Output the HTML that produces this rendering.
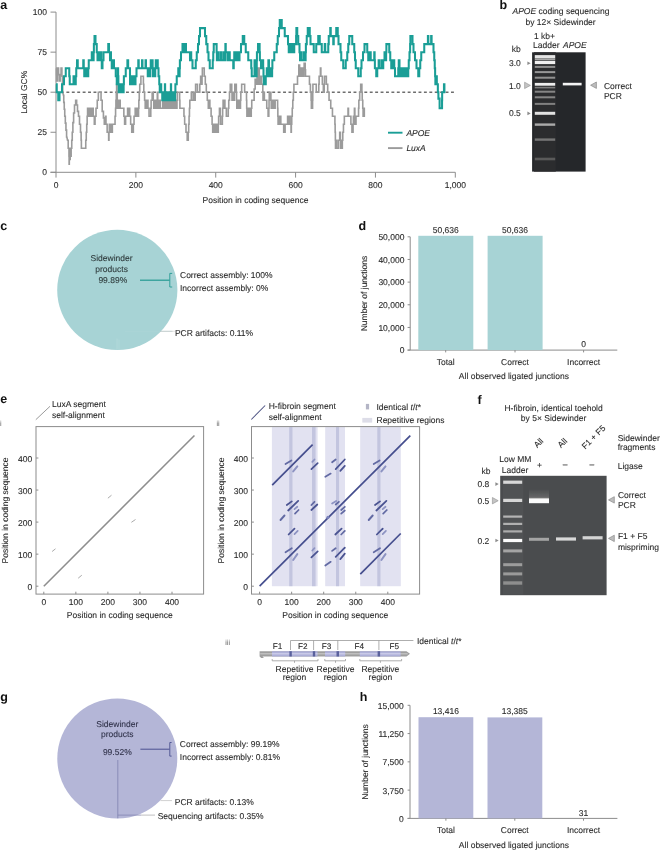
<!DOCTYPE html>
<html><head><meta charset="utf-8"><style>
html,body{margin:0;padding:0;background:#fff;}
svg{display:block;font-family:"Liberation Sans",sans-serif;filter:blur(0.45px);text-rendering:geometricPrecision;}
</style></head><body>
<svg width="660" height="850" viewBox="0 0 660 850">
<defs><linearGradient id="smear" x1="0" y1="0" x2="0" y2="1"><stop offset="0" stop-color="#4a4c4e"/><stop offset="0.7" stop-color="#646566"/><stop offset="1" stop-color="#909090"/></linearGradient><filter id="blur2" x="-10%" y="-100%" width="120%" height="300%"><feGaussianBlur stdDeviation="0.5 0.7"/></filter><filter id="blur" x="-10%" y="-100%" width="120%" height="300%"><feGaussianBlur stdDeviation="0.45 0.75"/></filter></defs>
<rect width="660" height="850" fill="#fff"/>
<text x="0.30" y="8.60" font-size="12.5" text-anchor="start" fill="#111" font-weight="bold" >a</text>
<line x1="56.00" y1="12.10" x2="56.00" y2="172.30" stroke="#8c8c8c" stroke-width="1" />
<line x1="50.50" y1="172.30" x2="455.30" y2="172.30" stroke="#8c8c8c" stroke-width="1" />
<line x1="50.50" y1="172.30" x2="56.00" y2="172.30" stroke="#8c8c8c" stroke-width="1" />
<text x="47.00" y="175.30" font-size="8.5" text-anchor="end" fill="#2a2a2a" stroke="#2a2a2a" stroke-width="0.1" >0</text>
<line x1="50.50" y1="132.25" x2="56.00" y2="132.25" stroke="#8c8c8c" stroke-width="1" />
<text x="47.00" y="135.25" font-size="8.5" text-anchor="end" fill="#2a2a2a" stroke="#2a2a2a" stroke-width="0.1" >25</text>
<line x1="50.50" y1="92.20" x2="56.00" y2="92.20" stroke="#8c8c8c" stroke-width="1" />
<text x="47.00" y="95.20" font-size="8.5" text-anchor="end" fill="#2a2a2a" stroke="#2a2a2a" stroke-width="0.1" >50</text>
<line x1="50.50" y1="52.15" x2="56.00" y2="52.15" stroke="#8c8c8c" stroke-width="1" />
<text x="47.00" y="55.15" font-size="8.5" text-anchor="end" fill="#2a2a2a" stroke="#2a2a2a" stroke-width="0.1" >75</text>
<line x1="50.50" y1="12.10" x2="56.00" y2="12.10" stroke="#8c8c8c" stroke-width="1" />
<text x="47.00" y="15.10" font-size="8.5" text-anchor="end" fill="#2a2a2a" stroke="#2a2a2a" stroke-width="0.1" >100</text>
<line x1="56.00" y1="172.30" x2="56.00" y2="177.60" stroke="#8c8c8c" stroke-width="1" />
<text x="56.00" y="188.40" font-size="8.5" text-anchor="middle" fill="#2a2a2a" stroke="#2a2a2a" stroke-width="0.1" >0</text>
<line x1="135.86" y1="172.30" x2="135.86" y2="177.60" stroke="#8c8c8c" stroke-width="1" />
<text x="135.86" y="188.40" font-size="8.5" text-anchor="middle" fill="#2a2a2a" stroke="#2a2a2a" stroke-width="0.1" >200</text>
<line x1="215.72" y1="172.30" x2="215.72" y2="177.60" stroke="#8c8c8c" stroke-width="1" />
<text x="215.72" y="188.40" font-size="8.5" text-anchor="middle" fill="#2a2a2a" stroke="#2a2a2a" stroke-width="0.1" >400</text>
<line x1="295.58" y1="172.30" x2="295.58" y2="177.60" stroke="#8c8c8c" stroke-width="1" />
<text x="295.58" y="188.40" font-size="8.5" text-anchor="middle" fill="#2a2a2a" stroke="#2a2a2a" stroke-width="0.1" >600</text>
<line x1="375.44" y1="172.30" x2="375.44" y2="177.60" stroke="#8c8c8c" stroke-width="1" />
<text x="375.44" y="188.40" font-size="8.5" text-anchor="middle" fill="#2a2a2a" stroke="#2a2a2a" stroke-width="0.1" >800</text>
<line x1="455.30" y1="172.30" x2="455.30" y2="177.60" stroke="#8c8c8c" stroke-width="1" />
<text x="455.30" y="188.40" font-size="8.5" text-anchor="middle" fill="#2a2a2a" stroke="#2a2a2a" stroke-width="0.1" >1,000</text>
<text x="255.50" y="202.60" font-size="8.5" text-anchor="middle" fill="#2a2a2a" stroke="#2a2a2a" stroke-width="0.1" >Position in coding sequence</text>
<text x="0.00" y="0.00" font-size="8.5" text-anchor="middle" fill="#2a2a2a" stroke="#2a2a2a" stroke-width="0.1" transform="translate(27.3,92.2) rotate(-90)">Local GC%</text>
<line x1="56.00" y1="92.20" x2="455.30" y2="92.20" stroke="#6e6e6e" stroke-width="1.45" stroke-dasharray="2.9,2.517" stroke-dashoffset="0.43"/>
<path d="M56.00,68.17 L56.40,68.17 L56.45,68.17 L56.45,74.58 L56.55,74.58 L56.55,80.99 L56.60,80.99 L57.40,80.99 L57.45,80.99 L57.45,74.58 L57.55,74.58 L57.55,68.17 L57.60,68.17 L58.20,68.17 L58.58,68.17 L58.58,74.58 L59.33,74.58 L59.33,80.99 L59.70,80.99 L60.15,80.99 L60.15,74.58 L61.05,74.58 L61.05,68.17 L61.50,68.17 L61.90,68.17 L61.90,76.18 L62.30,76.18 L62.42,76.18 L62.42,84.19 L62.67,84.19 L62.67,92.20 L62.80,92.20 L63.50,95.40 L63.75,95.40 L63.75,102.35 L64.25,102.35 L64.25,109.29 L64.75,109.29 L64.75,116.23 L65.00,116.23 L65.32,116.23 L65.32,123.17 L65.95,123.17 L65.95,130.11 L66.58,130.11 L66.58,137.06 L66.90,137.06 L67.50,140.26 L68.20,140.26 L68.20,148.27 L68.90,148.27 L68.98,148.27 L68.98,156.28 L69.12,156.28 L69.12,164.29 L69.20,164.29 L69.30,164.29 L69.30,156.28 L69.50,156.28 L69.50,148.27 L69.60,148.27 L69.80,148.27 L69.80,159.48 L70.00,159.48 L70.20,159.48 L70.20,148.27 L70.40,148.27 L70.60,148.27 L70.60,156.28 L70.80,156.28 L71.15,156.28 L71.15,148.27 L71.50,148.27 L71.75,148.27 L71.75,140.26 L72.25,140.26 L72.25,132.25 L72.50,132.25 L72.88,132.25 L72.88,122.64 L73.62,122.64 L73.62,113.03 L74.00,113.03 L74.50,113.03 L74.50,105.02 L75.00,105.02 L75.65,105.02 L75.65,100.21 L76.30,100.21 L76.65,100.21 L76.65,105.02 L77.00,105.02 L77.50,105.02 L77.50,111.42 L78.00,111.42 L78.50,111.42 L78.50,116.23 L79.00,116.23 L79.50,116.23 L79.50,124.24 L80.50,124.24 L80.50,132.25 L81.00,132.25 L81.12,132.25 L81.12,140.26 L81.38,140.26 L81.38,148.27 L81.50,148.27 L85.50,148.27 L85.75,148.27 L85.75,140.26 L86.25,140.26 L86.25,132.25 L86.50,132.25 L86.72,132.25 L86.72,124.24 L87.15,124.24 L87.15,116.23 L87.58,116.23 L87.58,108.22 L87.80,108.22 L87.80,116.23 L88.61,116.23 L88.61,108.22 L89.06,108.22 L89.06,116.23 L90.67,116.23 L90.67,108.22 L91.12,108.22 L91.12,116.23 L92.74,116.23 L92.74,108.22 L93.19,108.22 L93.19,116.23 L94.00,116.23 L94.30,116.23 L94.30,124.24 L94.60,124.24 L95.05,124.24 L95.05,116.23 L95.50,116.23 L96.00,116.23 L96.00,108.22 L96.50,108.22 L97.25,108.22 L97.25,100.21 L98.00,100.21 L98.35,100.21 L98.35,92.20 L98.70,92.20 L100.70,92.20 L101.05,92.20 L101.05,100.21 L101.40,100.21 L102.20,100.21 L102.20,111.42 L103.00,111.42 L103.42,111.42 L103.42,117.83 L104.28,117.83 L104.28,124.24 L104.70,124.24 L105.53,124.24 L105.53,116.23 L105.98,116.23 L105.98,124.24 L106.80,124.24 L107.15,124.24 L107.15,132.25 L107.50,132.25 L108.50,132.25 L108.65,132.25 L108.65,140.26 L108.80,140.26 L108.97,140.26 L108.97,132.25 L109.33,132.25 L109.33,124.24 L109.50,124.24 L109.50,132.25 L110.53,132.25 L110.53,124.24 L110.98,124.24 L110.98,132.25 L112.00,132.25 L112.35,132.25 L112.35,124.24 L112.70,124.24 L114.70,124.24 L115.05,124.24 L115.05,116.23 L115.40,116.23 L115.58,116.23 L115.58,108.22 L115.92,108.22 L115.92,100.21 L116.28,100.21 L116.28,92.20 L116.62,92.20 L116.62,84.19 L116.80,84.19 L116.95,84.19 L116.95,92.20 L117.25,92.20 L117.25,100.21 L117.40,100.21 L117.40,108.22 L118.03,108.22 L118.03,100.21 L118.48,100.21 L118.48,108.22 L119.72,108.22 L119.72,100.21 L120.17,100.21 L120.17,108.22 L120.80,108.22 L121.50,108.22 L123.50,108.22 L123.85,108.22 L123.85,116.23 L124.20,116.23 L124.60,116.23 L124.60,124.24 L125.00,124.24 L125.60,124.24 L125.60,116.23 L126.20,116.23 L127.00,116.23 L127.60,116.23 L127.60,108.22 L128.05,108.22 L128.05,116.23 L129.25,116.23 L129.25,108.22 L129.70,108.22 L129.70,116.23 L130.30,116.23 L130.65,116.23 L130.65,124.24 L131.00,124.24 L131.75,124.24 L131.75,132.25 L132.50,132.25 L133.00,132.25 L133.35,132.25 L133.35,124.24 L133.70,124.24 L134.05,124.24 L134.05,116.23 L134.40,116.23 L134.40,116.23 L135.18,116.23 L135.18,108.22 L135.62,108.22 L135.62,116.23 L137.18,116.23 L137.18,108.22 L137.62,108.22 L137.62,116.23 L138.40,116.23 L138.55,116.23 L138.55,108.22 L138.85,108.22 L138.85,100.21 L139.00,100.21 L139.25,100.21 L139.25,92.20 L139.75,92.20 L139.75,84.19 L140.00,84.19 L140.90,84.19 L140.90,76.18 L141.80,76.18 L143.20,76.18 L143.40,76.18 L143.40,84.19 L143.80,84.19 L143.80,92.20 L144.00,92.20 L144.60,92.20 L144.60,100.21 L145.20,100.21 L145.20,108.22 L145.82,108.22 L145.82,100.21 L146.27,100.21 L146.27,108.22 L147.52,108.22 L147.52,100.21 L147.97,100.21 L147.97,108.22 L148.60,108.22 L149.05,108.22 L149.05,116.23 L149.50,116.23 L150.60,116.23 L150.78,116.23 L150.78,108.22 L151.12,108.22 L151.12,100.21 L151.30,100.21 L152.15,100.21 L152.15,92.20 L153.00,92.20 L153.25,92.20 L153.25,100.21 L153.75,100.21 L153.75,108.22 L154.00,108.22 L155.12,108.22 L155.12,100.21 L155.57,100.21 L155.57,108.22 L156.70,108.22 L156.90,108.22 L156.90,100.21 L157.30,100.21 L157.30,92.20 L157.50,92.20 L157.75,92.20 L157.75,100.21 L158.00,100.21 L158.35,100.21 L158.35,108.22 L158.70,108.22 L159.83,108.22 L159.83,100.21 L160.28,100.21 L160.28,108.22 L161.40,108.22 L162.00,108.22 L162.70,108.22 L162.70,100.21 L163.15,100.21 L163.15,108.22 L164.55,108.22 L164.55,100.21 L165.00,100.21 L165.00,108.22 L166.40,108.22 L166.40,100.21 L166.85,100.21 L166.85,108.22 L168.25,108.22 L168.25,100.21 L168.70,100.21 L168.70,108.22 L170.10,108.22 L170.10,100.21 L170.55,100.21 L170.55,108.22 L171.95,108.22 L171.95,100.21 L172.40,100.21 L172.40,108.22 L173.80,108.22 L173.80,100.21 L174.25,100.21 L174.25,108.22 L175.65,108.22 L175.65,100.21 L176.10,100.21 L176.10,108.22 L176.80,108.22 L176.98,108.22 L176.98,100.21 L177.32,100.21 L177.32,92.20 L177.50,92.20 L179.50,92.20 L179.62,92.20 L179.62,100.21 L179.88,100.21 L179.88,108.22 L180.00,108.22 L183.60,108.22 L183.95,108.22 L183.95,116.23 L184.65,116.23 L184.65,124.24 L185.00,124.24 L186.00,124.24 L186.00,132.25 L187.00,132.25 L187.20,132.25 L187.20,140.26 L187.40,140.26 L188.00,140.26 L188.25,140.26 L188.25,132.25 L188.50,132.25 L188.69,132.25 L188.69,124.24 L189.06,124.24 L189.06,116.23 L189.44,116.23 L189.44,108.22 L189.81,108.22 L189.81,100.21 L190.00,100.21 L190.40,100.21 L191.33,100.21 L191.33,92.20 L191.78,92.20 L191.78,100.21 L193.62,100.21 L193.62,92.20 L194.07,92.20 L194.07,100.21 L195.00,100.21 L195.20,100.21 L195.20,92.20 L195.60,92.20 L195.60,84.19 L195.80,84.19 L197.10,84.19 L197.45,84.19 L197.45,92.20 L197.80,92.20 L199.80,92.20 L199.80,84.19 L200.63,84.19 L200.63,76.18 L201.08,76.18 L201.08,84.19 L201.90,84.19 L202.05,84.19 L202.05,76.18 L202.35,76.18 L202.35,68.17 L202.50,68.17 L203.90,68.17 L204.25,68.17 L204.25,76.18 L204.60,76.18 L205.30,76.18 L205.30,84.19 L206.00,84.19 L206.30,84.19 L206.30,92.20 L206.60,92.20 L207.30,92.20 L207.30,100.21 L208.00,100.21 L208.30,100.21 L208.30,108.22 L208.60,108.22 L209.42,108.22 L209.42,100.21 L209.87,100.21 L209.87,108.22 L210.70,108.22 L211.10,108.22 L211.10,116.23 L211.50,116.23 L212.10,116.23 L212.10,124.24 L212.70,124.24 L212.70,132.25 L213.38,132.25 L213.38,124.24 L213.82,124.24 L213.82,132.25 L215.18,132.25 L215.18,124.24 L215.62,124.24 L215.62,132.25 L216.97,132.25 L216.97,124.24 L217.42,124.24 L217.42,132.25 L218.10,132.25 L218.28,132.25 L218.28,124.24 L218.62,124.24 L218.62,116.23 L218.80,116.23 L219.45,116.23 L219.45,108.22 L220.10,108.22 L220.28,108.22 L220.28,116.23 L220.62,116.23 L220.62,124.24 L220.80,124.24 L222.20,124.24 L222.35,124.24 L222.35,116.23 L222.65,116.23 L222.65,108.22 L222.80,108.22 L223.10,108.22 L223.10,100.21 L223.40,100.21 L223.40,108.22 L224.47,108.22 L224.47,100.21 L224.92,100.21 L224.92,108.22 L226.00,108.22 L226.35,108.22 L226.35,116.23 L226.70,116.23 L228.00,116.23 L228.25,116.23 L228.25,108.22 L228.75,108.22 L228.75,100.21 L229.00,100.21 L229.50,100.21 L229.50,92.20 L230.00,92.20 L230.25,92.20 L230.25,84.19 L230.50,84.19 L231.50,84.19 L231.75,84.19 L231.75,92.20 L232.00,92.20 L232.00,100.21 L232.88,100.21 L232.88,92.20 L233.32,92.20 L233.32,100.21 L234.20,100.21 L234.40,100.21 L234.40,92.20 L234.80,92.20 L234.80,84.19 L235.00,84.19 L236.20,84.19 L236.32,84.19 L236.32,92.20 L236.55,92.20 L236.55,100.21 L236.78,100.21 L236.78,108.22 L236.90,108.22 L237.53,108.22 L237.53,100.21 L237.97,100.21 L237.97,108.22 L239.23,108.22 L239.23,100.21 L239.68,100.21 L239.68,108.22 L240.30,108.22 L240.48,108.22 L240.48,100.21 L240.82,100.21 L240.82,92.20 L241.00,92.20 L241.65,92.20 L241.65,84.19 L242.30,84.19 L244.30,84.19 L244.65,84.19 L244.65,92.20 L245.00,92.20 L246.40,92.20 L246.50,92.20 L246.50,100.21 L246.70,100.21 L246.70,108.22 L246.90,108.22 L246.90,116.23 L247.00,116.23 L247.78,116.23 L247.78,108.22 L248.22,108.22 L248.22,116.23 L249.78,116.23 L249.78,108.22 L250.22,108.22 L250.22,116.23 L251.00,116.23 L251.25,116.23 L251.25,108.22 L251.75,108.22 L251.75,100.21 L252.00,100.21 L253.80,100.21 L254.15,100.21 L254.15,89.00 L254.50,89.00 L255.15,89.00 L255.15,79.38 L255.80,79.38 L256.15,79.38 L256.15,84.19 L256.50,84.19 L257.12,84.19 L257.12,68.17 L257.57,68.17 L257.57,84.19 L258.82,84.19 L258.82,68.17 L259.27,68.17 L259.27,84.19 L259.90,84.19 L260.25,84.19 L260.25,76.18 L260.60,76.18 L261.60,76.18 L261.60,84.19 L262.60,84.19 L262.80,84.19 L262.80,92.20 L263.00,92.20 L263.00,100.21 L263.92,100.21 L263.92,92.20 L264.37,92.20 L264.37,100.21 L265.30,100.21 L266.00,100.21 L266.75,100.21 L266.75,108.22 L267.50,108.22 L268.10,108.22 L268.10,116.23 L268.70,116.23 L268.82,116.23 L268.82,108.22 L269.05,108.22 L269.05,100.21 L269.28,100.21 L269.28,92.20 L269.40,92.20 L270.70,92.20 L270.88,92.20 L270.88,100.21 L271.22,100.21 L271.22,108.22 L271.40,108.22 L272.02,108.22 L272.02,100.21 L272.47,100.21 L272.47,108.22 L273.73,108.22 L273.73,100.21 L274.18,100.21 L274.18,108.22 L274.80,108.22 L275.15,108.22 L275.15,100.21 L275.50,100.21 L277.50,100.21 L277.62,100.21 L277.62,108.22 L277.85,108.22 L277.85,116.23 L278.08,116.23 L278.08,124.24 L278.20,124.24 L278.77,124.24 L278.77,116.23 L279.22,116.23 L279.22,124.24 L280.37,124.24 L280.37,116.23 L280.82,116.23 L280.82,124.24 L281.40,124.24 L282.00,124.24 L283.40,124.24 L283.70,124.24 L283.70,132.25 L284.00,132.25 L284.80,132.25 L285.10,132.25 L285.10,124.24 L285.40,124.24 L286.80,124.24 L287.60,124.24 L287.60,116.23 L288.05,116.23 L288.05,124.24 L289.65,124.24 L289.65,116.23 L290.10,116.23 L290.10,124.24 L290.90,124.24 L291.05,124.24 L291.05,132.25 L291.20,132.25 L291.35,132.25 L291.35,124.24 L291.50,124.24 L291.75,124.24 L291.75,116.23 L292.25,116.23 L292.25,108.22 L292.50,108.22 L292.78,108.22 L292.78,100.21 L293.35,100.21 L293.35,92.20 L293.92,92.20 L293.92,84.19 L294.20,84.19 L297.00,84.19 L297.50,84.19 L297.50,76.18 L298.00,76.18 L298.80,76.18 L298.80,64.97 L299.60,64.97 L299.60,76.18 L300.40,76.18 L300.40,68.17 L300.85,68.17 L300.85,76.18 L302.45,76.18 L302.45,68.17 L302.90,68.17 L302.90,76.18 L303.70,76.18 L303.85,76.18 L303.85,69.77 L304.15,69.77 L304.15,63.36 L304.30,63.36 L305.00,63.36 L305.18,63.36 L305.18,69.77 L305.52,69.77 L305.52,76.18 L305.70,76.18 L309.10,76.18 L309.45,76.18 L309.45,84.19 L309.80,84.19 L310.40,84.19 L310.40,92.20 L311.00,92.20 L311.12,92.20 L311.12,100.21 L311.38,100.21 L311.38,108.22 L311.50,108.22 L312.50,108.22 L312.58,108.22 L312.58,100.21 L312.75,100.21 L312.75,92.20 L312.92,92.20 L312.92,84.19 L313.00,84.19 L315.90,84.19 L316.25,84.19 L316.25,92.20 L316.60,92.20 L318.60,92.20 L318.78,92.20 L318.78,84.19 L319.12,84.19 L319.12,76.18 L319.30,76.18 L320.42,76.18 L320.42,68.17 L320.87,68.17 L320.87,76.18 L322.00,76.18 L322.35,76.18 L322.35,84.19 L322.70,84.19 L323.35,84.19 L323.35,92.20 L324.00,92.20 L324.18,92.20 L324.18,84.19 L324.52,84.19 L324.52,76.18 L324.70,76.18 L326.00,76.18 L326.35,76.18 L326.35,84.19 L326.70,84.19 L327.70,84.19 L327.70,92.20 L328.70,92.20 L329.05,92.20 L329.05,100.21 L329.40,100.21 L330.75,100.21 L330.75,108.22 L332.10,108.22 L332.45,108.22 L332.45,116.23 L332.80,116.23 L334.80,116.23 L334.92,116.23 L334.92,124.24 L335.15,124.24 L335.15,132.25 L335.38,132.25 L335.38,140.26 L335.50,140.26 L335.50,148.27 L336.52,148.27 L336.52,140.26 L336.97,140.26 L336.97,148.27 L338.00,148.27 L338.70,148.27 L338.70,140.26 L339.40,140.26 L339.70,140.26 L339.70,132.25 L340.00,132.25 L340.40,132.25 L340.40,140.26 L340.80,140.26 L340.80,148.27 L341.23,148.27 L341.23,140.26 L341.68,140.26 L341.68,148.27 L342.10,148.27 L342.33,148.27 L342.33,140.26 L342.77,140.26 L342.77,132.25 L343.00,132.25 L343.45,132.25 L343.45,124.24 L344.35,124.24 L344.35,116.23 L344.80,116.23 L346.90,116.23 L346.90,116.23 L348.02,116.23 L348.02,108.22 L348.47,108.22 L348.47,116.23 L349.60,116.23 L350.20,116.23 L350.90,116.23 L350.90,124.24 L351.60,124.24 L351.95,124.24 L351.95,132.25 L352.30,132.25 L352.90,132.25 L353.07,132.25 L353.07,124.24 L353.43,124.24 L353.43,116.23 L353.60,116.23 L353.60,124.24 L354.42,124.24 L354.42,108.22 L354.87,108.22 L354.87,124.24 L355.70,124.24 L356.00,124.24 L356.00,116.23 L356.30,116.23 L358.40,116.23 L358.55,116.23 L358.55,108.22 L358.85,108.22 L358.85,100.21 L359.00,100.21 L359.70,100.21 L359.70,92.20 L360.40,92.20 L360.70,92.20 L360.70,84.19 L361.00,84.19 L361.70,84.19 L361.88,84.19 L361.88,92.20 L362.22,92.20 L362.22,100.21 L362.40,100.21 L362.75,100.21 L362.75,108.22 L363.10,108.22 L363.10,116.23 L363.88,116.23 L363.88,108.22 L364.32,108.22 L364.32,116.23 L365.10,116.23" fill="none" stroke="#9b9b9b" stroke-width="1.6" stroke-linejoin="miter" stroke-miterlimit="2"/>
<path d="M56.00,84.19 L56.75,84.19 L56.75,92.20 L57.50,92.20 L58.25,92.20 L58.25,100.21 L59.00,100.21 L59.50,100.21 L59.50,92.20 L60.00,92.20 L61.50,92.20 L62.00,92.20 L62.00,84.19 L62.50,84.19 L63.50,84.19 L64.00,84.19 L64.00,76.18 L64.50,76.18 L65.50,76.18 L65.75,76.18 L65.75,68.17 L66.00,68.17 L69.00,68.17 L69.25,68.17 L69.25,76.18 L69.75,76.18 L69.75,84.19 L70.00,84.19 L72.00,84.19 L72.00,84.19 L73.53,84.19 L73.53,76.18 L73.98,76.18 L73.98,84.19 L75.50,84.19 L75.75,84.19 L75.75,76.18 L76.25,76.18 L76.25,68.17 L76.50,68.17 L77.00,68.17 L77.00,60.16 L77.50,60.16 L77.75,60.16 L77.75,68.17 L78.00,68.17 L83.00,68.17 L83.25,68.17 L83.25,60.16 L83.50,60.16 L83.75,60.16 L83.75,68.17 L84.00,68.17 L84.25,68.17 L84.25,76.18 L84.50,76.18 L86.03,76.18 L86.03,68.17 L86.48,68.17 L86.48,76.18 L88.00,76.18 L88.25,76.18 L88.25,68.17 L88.75,68.17 L88.75,60.16 L89.00,60.16 L90.50,60.16 L90.50,60.16 L91.78,60.16 L91.78,52.15 L92.23,52.15 L92.23,60.16 L93.50,60.16 L93.62,60.16 L93.62,52.15 L93.88,52.15 L93.88,44.14 L94.00,44.14 L94.50,44.14 L94.50,36.13 L95.00,36.13 L95.50,36.13 L95.50,44.14 L96.00,44.14 L96.75,44.14 L96.75,52.15 L97.50,52.15 L97.50,60.16 L98.53,60.16 L98.53,52.15 L98.98,52.15 L98.98,60.16 L100.00,60.16 L100.50,60.16 L100.50,52.15 L101.00,52.15 L101.25,52.15 L101.25,60.16 L101.75,60.16 L101.75,68.17 L102.00,68.17 L102.50,68.17 L102.50,60.16 L103.00,60.16 L103.50,60.16 L103.50,52.15 L104.00,52.15 L108.00,52.15 L108.25,52.15 L108.25,44.14 L108.50,44.14 L109.00,44.14 L109.00,52.15 L109.50,52.15 L110.00,52.15 L110.00,60.16 L110.53,60.16 L110.53,52.15 L110.98,52.15 L110.98,60.16 L111.50,60.16 L111.75,60.16 L111.75,68.17 L112.00,68.17 L113.53,68.17 L113.53,60.16 L113.98,60.16 L113.98,68.17 L115.50,68.17 L115.75,68.17 L115.75,76.18 L116.00,76.18 L116.75,76.18 L116.75,84.19 L117.50,84.19 L117.62,84.19 L117.62,76.18 L117.88,76.18 L117.88,68.17 L118.00,68.17 L118.12,68.17 L118.12,76.18 L118.38,76.18 L118.38,84.19 L118.50,84.19 L118.75,84.19 L118.75,92.20 L119.00,92.20 L119.90,92.20 L119.90,84.19 L120.35,84.19 L120.35,92.20 L122.15,92.20 L122.15,84.19 L122.60,84.19 L122.60,92.20 L123.50,92.20 L123.62,92.20 L123.62,84.19 L123.88,84.19 L123.88,76.18 L124.00,76.18 L125.50,76.18 L125.75,76.18 L125.75,68.17 L126.00,68.17 L127.00,68.17 L127.40,68.17 L127.40,60.16 L127.80,60.16 L128.15,60.16 L128.15,68.17 L128.50,68.17 L130.00,68.17 L130.00,84.19 L131.03,84.19 L131.03,76.18 L131.47,76.18 L131.47,84.19 L133.53,84.19 L133.53,76.18 L133.97,76.18 L133.97,84.19 L135.00,84.19 L135.50,84.19 L135.50,76.18 L136.00,76.18 L136.50,76.18 L136.50,68.17 L137.00,68.17 L138.00,68.17 L138.28,68.17 L138.28,60.16 L138.72,60.16 L138.72,68.17 L139.00,68.17 L139.50,68.17 L141.00,68.17 L141.50,68.17 L142.03,68.17 L142.03,60.16 L142.47,60.16 L142.47,68.17 L143.00,68.17 L144.00,68.17 L145.53,68.17 L145.53,60.16 L145.97,60.16 L145.97,68.17 L147.50,68.17 L147.75,68.17 L147.75,76.18 L148.00,76.18 L148.78,76.18 L148.78,68.17 L149.22,68.17 L149.22,76.18 L150.00,76.18 L150.25,76.18 L150.25,68.17 L150.75,68.17 L150.75,60.16 L151.00,60.16 L152.50,60.16 L152.62,60.16 L152.62,68.17 L152.88,68.17 L152.88,76.18 L153.00,76.18 L153.78,76.18 L153.78,68.17 L154.22,68.17 L154.22,76.18 L155.00,76.18 L155.25,76.18 L155.25,68.17 L155.75,68.17 L155.75,60.16 L156.00,60.16 L157.50,60.16 L157.75,60.16 L157.75,68.17 L158.00,68.17 L158.50,68.17 L158.50,76.18 L159.00,76.18 L159.25,76.18 L159.25,84.19 L159.50,84.19 L159.75,84.19 L159.75,92.20 L160.00,92.20 L160.78,92.20 L160.78,84.19 L161.22,84.19 L161.22,92.20 L162.00,92.20 L162.25,92.20 L162.25,100.21 L162.50,100.21 L163.28,100.21 L163.28,92.20 L163.72,92.20 L163.72,100.21 L164.50,100.21 L164.62,100.21 L164.62,92.20 L164.88,92.20 L164.88,84.19 L165.00,84.19 L165.12,84.19 L165.12,92.20 L165.38,92.20 L165.38,100.21 L165.50,100.21 L166.53,100.21 L166.53,92.20 L166.97,92.20 L166.97,100.21 L169.03,100.21 L169.03,92.20 L169.47,92.20 L169.47,100.21 L170.50,100.21 L170.62,100.21 L170.62,92.20 L170.88,92.20 L170.88,84.19 L171.00,84.19 L171.12,84.19 L171.12,92.20 L171.38,92.20 L171.38,100.21 L171.50,100.21 L173.03,100.21 L173.03,92.20 L173.47,92.20 L173.47,100.21 L175.00,100.21 L175.12,100.21 L175.12,92.20 L175.38,92.20 L175.38,84.19 L175.50,84.19 L176.00,84.19 L176.75,84.19 L176.75,76.18 L177.50,76.18 L177.50,76.18 L178.28,76.18 L178.28,68.17 L178.72,68.17 L178.72,76.18 L179.50,76.18 L179.62,76.18 L179.62,68.17 L179.88,68.17 L179.88,60.16 L180.00,60.16 L181.00,60.16 L181.00,52.15 L182.00,52.15 L182.50,52.15 L182.50,44.14 L183.00,44.14 L183.50,44.14 L183.50,52.15 L184.00,52.15 L185.53,52.15 L185.53,44.14 L185.97,44.14 L185.97,52.15 L187.50,52.15 L188.00,52.15 L190.00,52.15 L190.00,60.16 L190.78,60.16 L190.78,52.15 L191.22,52.15 L191.22,60.16 L192.00,60.16 L192.50,60.16 L192.50,68.17 L193.00,68.17 L195.50,68.17 L195.75,68.17 L195.75,60.16 L196.00,60.16 L196.75,60.16 L196.75,52.15 L197.50,52.15 L198.00,52.15 L198.00,44.14 L198.50,44.14 L199.00,44.14 L199.00,36.13 L199.50,36.13 L200.00,36.13 L200.00,28.12 L200.50,28.12 L204.50,28.12 L205.00,28.12 L205.00,36.13 L205.50,36.13 L206.25,36.13 L206.25,44.14 L207.00,44.14 L207.50,44.14 L207.50,52.15 L208.00,52.15 L208.50,52.15 L208.50,60.16 L209.00,60.16 L209.75,60.16 L209.75,68.17 L210.50,68.17 L212.50,68.17 L212.75,68.17 L212.75,60.16 L213.00,60.16 L213.25,60.16 L213.25,52.15 L213.50,52.15 L213.75,52.15 L213.75,44.14 L214.00,44.14 L216.50,44.14 L216.62,44.14 L216.62,52.15 L216.88,52.15 L216.88,60.16 L217.00,60.16 L218.11,60.16 L218.11,52.15 L218.56,52.15 L218.56,60.16 L220.78,60.16 L220.78,52.15 L221.22,52.15 L221.22,60.16 L223.44,60.16 L223.44,52.15 L223.89,52.15 L223.89,60.16 L225.00,60.16 L225.12,60.16 L225.12,52.15 L225.38,52.15 L225.38,44.14 L225.50,44.14 L225.75,44.14 L225.75,52.15 L226.00,52.15 L227.00,52.15 L227.50,52.15 L227.50,60.16 L228.00,60.16 L229.00,60.16 L229.25,60.16 L229.25,52.15 L229.50,52.15 L229.75,52.15 L229.75,60.16 L230.00,60.16 L233.00,60.16 L233.25,60.16 L233.25,68.17 L233.50,68.17 L233.75,68.17 L233.75,60.16 L234.25,60.16 L234.25,52.15 L234.50,52.15 L236.00,52.15 L236.00,60.16 L237.28,60.16 L237.28,52.15 L237.72,52.15 L237.72,60.16 L239.00,60.16 L239.50,60.16 L239.50,52.15 L240.00,52.15 L241.00,52.15 L241.00,44.14 L242.00,44.14 L242.75,44.14 L242.75,36.13 L243.50,36.13 L244.25,36.13 L244.25,44.14 L245.00,44.14 L245.75,44.14 L245.75,52.15 L246.50,52.15 L248.00,52.15 L248.25,52.15 L248.25,60.16 L248.50,60.16 L251.00,60.16 L251.25,60.16 L251.25,68.17 L251.75,68.17 L251.75,76.18 L252.00,76.18 L253.00,76.18 L254.53,76.18 L254.53,60.16 L254.97,60.16 L254.97,76.18 L256.50,76.18 L256.58,76.18 L256.58,68.17 L256.75,68.17 L256.75,60.16 L256.92,60.16 L256.92,52.15 L257.00,52.15 L258.00,52.15 L258.00,44.14 L259.00,44.14 L259.50,44.14 L259.62,44.14 L259.62,52.15 L259.88,52.15 L259.88,60.16 L260.00,60.16 L261.00,60.16 L261.00,68.17 L262.00,68.17 L262.50,68.17 L262.50,60.16 L263.00,60.16 L263.17,60.16 L263.17,68.17 L263.50,68.17 L263.50,76.18 L263.83,76.18 L263.83,84.19 L264.00,84.19 L265.50,84.19 L265.75,84.19 L265.75,76.18 L266.00,76.18 L266.77,76.18 L266.77,68.17 L267.22,68.17 L267.22,76.18 L268.00,76.18 L268.12,76.18 L268.12,68.17 L268.38,68.17 L268.38,60.16 L268.50,60.16 L269.00,60.16 L269.00,68.17 L269.50,68.17 L269.75,68.17 L269.75,76.18 L270.00,76.18 L270.77,76.18 L270.77,68.17 L271.22,68.17 L271.22,76.18 L272.00,76.18 L272.12,76.18 L272.12,68.17 L272.38,68.17 L272.38,60.16 L272.50,60.16 L274.00,60.16 L274.25,60.16 L274.25,52.15 L274.50,52.15 L276.50,52.15 L276.75,52.15 L276.75,44.14 L277.00,44.14 L277.75,44.14 L277.75,36.13 L278.50,36.13 L279.00,36.13 L279.00,28.12 L279.50,28.12 L279.75,28.12 L279.75,20.11 L280.00,20.11 L281.50,20.11 L281.75,20.11 L281.75,28.12 L282.00,28.12 L284.50,28.12 L284.75,28.12 L284.75,36.13 L285.00,36.13 L287.50,36.13 L288.00,36.13 L288.00,44.14 L288.50,44.14 L288.75,44.14 L288.75,52.15 L289.00,52.15 L290.02,52.15 L290.02,44.14 L290.47,44.14 L290.47,52.15 L292.52,52.15 L292.52,44.14 L292.97,44.14 L292.97,52.15 L294.00,52.15 L294.25,52.15 L294.25,44.14 L294.50,44.14 L296.00,44.14 L296.12,44.14 L296.12,36.13 L296.38,36.13 L296.38,28.12 L296.50,28.12 L297.00,28.12 L297.25,28.12 L297.25,36.13 L297.50,36.13 L298.25,36.13 L298.25,44.14 L299.00,44.14 L299.50,44.14 L299.50,52.15 L300.00,52.15 L300.00,60.16 L301.15,60.16 L301.15,52.15 L301.60,52.15 L301.60,60.16 L303.90,60.16 L303.90,52.15 L304.35,52.15 L304.35,60.16 L305.50,60.16 L305.62,60.16 L305.62,52.15 L305.88,52.15 L305.88,44.14 L306.00,44.14 L306.75,44.14 L306.75,36.13 L307.50,36.13 L307.75,36.13 L307.75,28.12 L308.00,28.12 L309.50,28.12 L309.75,28.12 L309.75,36.13 L310.00,36.13 L310.50,36.13 L310.50,44.14 L311.00,44.14 L313.50,44.14 L313.75,44.14 L313.75,52.15 L314.00,52.15 L316.00,52.15 L316.25,52.15 L316.25,44.14 L316.50,44.14 L318.00,44.14 L318.25,44.14 L318.25,36.13 L318.50,36.13 L319.50,36.13 L319.75,36.13 L319.75,44.14 L320.00,44.14 L321.50,44.14 L321.75,44.14 L321.75,52.15 L322.00,52.15 L324.50,52.15 L324.75,52.15 L324.75,44.14 L325.00,44.14 L325.25,44.14 L325.25,52.15 L325.50,52.15 L328.00,52.15 L328.25,52.15 L328.25,44.14 L328.75,44.14 L328.75,36.13 L329.00,36.13 L330.00,36.13 L330.25,36.13 L330.25,28.12 L330.50,28.12 L330.75,28.12 L330.75,36.13 L331.00,36.13 L333.00,36.13 L333.25,36.13 L333.25,44.14 L333.50,44.14 L333.75,44.14 L333.75,36.13 L334.00,36.13 L336.00,36.13 L336.25,36.13 L336.25,28.12 L336.50,28.12 L337.50,28.12 L337.75,28.12 L337.75,36.13 L338.00,36.13 L338.50,36.13 L338.50,44.14 L339.00,44.14 L340.00,44.14 L340.50,44.14 L340.50,52.15 L341.00,52.15 L341.25,52.15 L341.25,60.16 L341.50,60.16 L343.00,60.16 L343.25,60.16 L343.25,68.17 L343.50,68.17 L345.50,68.17 L345.75,68.17 L345.75,60.16 L346.00,60.16 L347.00,60.16 L347.25,60.16 L347.25,52.15 L347.50,52.15 L348.25,52.15 L348.25,44.14 L349.00,44.14 L349.25,44.14 L349.25,36.13 L349.50,36.13 L352.00,36.13 L352.25,36.13 L352.25,44.14 L352.50,44.14 L354.00,44.14 L354.25,44.14 L354.25,52.15 L354.50,52.15 L355.00,52.15 L355.00,60.16 L355.50,60.16 L355.75,60.16 L355.75,68.17 L356.00,68.17 L358.00,68.17 L358.25,68.17 L358.25,76.18 L358.50,76.18 L360.50,76.18 L360.75,76.18 L360.75,68.17 L361.00,68.17 L361.50,68.17 L361.50,60.16 L362.00,60.16 L363.00,60.16 L363.00,52.15 L364.00,52.15 L364.50,52.15 L364.50,44.14 L365.00,44.14 L367.00,44.14 L367.25,44.14 L367.25,52.15 L367.50,52.15 L368.25,52.15 L368.25,60.16 L369.00,60.16 L370.27,60.16 L370.27,52.15 L370.72,52.15 L370.72,60.16 L372.00,60.16 L372.50,60.16 L374.00,60.16 L374.25,60.16 L374.25,52.15 L374.50,52.15 L374.62,52.15 L374.62,60.16 L374.88,60.16 L374.88,68.17 L375.00,68.17 L376.00,68.17 L376.25,68.17 L376.25,76.18 L376.50,76.18 L377.00,76.18 L377.25,76.18 L377.25,68.17 L377.50,68.17 L378.65,68.17 L378.65,60.16 L379.10,60.16 L379.10,68.17 L381.40,68.17 L381.40,60.16 L381.85,60.16 L381.85,68.17 L383.00,68.17 L383.25,68.17 L383.25,60.16 L383.50,60.16 L384.52,60.16 L384.52,52.15 L384.97,52.15 L384.97,60.16 L386.00,60.16 L386.12,60.16 L386.12,52.15 L386.38,52.15 L386.38,44.14 L386.50,44.14 L389.00,44.14 L389.25,44.14 L389.25,52.15 L389.50,52.15 L390.25,52.15 L390.25,60.16 L391.00,60.16 L391.25,60.16 L391.25,68.17 L391.50,68.17 L392.00,68.17 L392.25,68.17 L392.25,60.16 L392.50,60.16 L394.00,60.16 L394.25,60.16 L394.25,68.17 L394.50,68.17 L395.00,68.17 L395.00,76.18 L395.50,76.18 L398.00,76.18 L398.25,76.18 L398.25,68.17 L398.50,68.17 L398.75,68.17 L398.75,60.16 L399.00,60.16 L399.50,60.16 L399.50,68.17 L400.00,68.17 L400.25,68.17 L400.25,76.18 L400.50,76.18 L401.52,76.18 L401.52,68.17 L401.97,68.17 L401.97,76.18 L404.02,76.18 L404.02,68.17 L404.47,68.17 L404.47,76.18 L406.52,76.18 L406.52,68.17 L406.97,68.17 L406.97,76.18 L408.00,76.18 L408.25,76.18 L408.25,68.17 L408.75,68.17 L408.75,60.16 L409.00,60.16 L409.50,60.16 L409.50,52.15 L410.00,52.15 L410.12,52.15 L410.12,44.14 L410.38,44.14 L410.38,36.13 L410.50,36.13 L412.00,36.13 L412.50,36.13 L412.50,44.14 L413.00,44.14 L413.50,44.14 L413.50,52.15 L414.00,52.15 L415.00,52.15 L415.00,60.16 L416.00,60.16 L416.50,60.16 L416.50,68.17 L417.00,68.17 L418.00,68.17 L418.25,68.17 L418.25,76.18 L418.50,76.18 L419.00,76.18 L419.25,76.18 L419.25,68.17 L419.50,68.17 L420.25,68.17 L420.25,60.16 L421.00,60.16 L421.25,60.16 L421.25,52.15 L421.50,52.15 L424.00,52.15 L424.25,52.15 L424.25,44.14 L424.50,44.14 L426.00,44.14 L426.50,44.14 L427.90,44.14 L427.90,36.13 L428.35,36.13 L428.35,44.14 L431.15,44.14 L431.15,36.13 L431.60,36.13 L431.60,44.14 L433.00,44.14 L433.50,44.14 L433.50,52.15 L434.00,52.15 L434.25,52.15 L434.25,60.16 L434.75,60.16 L434.75,68.17 L435.00,68.17 L435.12,68.17 L435.12,76.18 L435.38,76.18 L435.38,84.19 L435.50,84.19 L436.38,84.19 L436.38,76.18 L436.82,76.18 L436.82,84.19 L437.70,84.19 L437.85,84.19 L437.85,92.20 L438.00,92.20 L438.40,92.20 L438.40,98.61 L438.80,98.61 L439.60,98.61 L439.60,108.22 L440.40,108.22 L442.00,108.22 L442.05,108.22 L442.05,100.21 L442.15,100.21 L442.15,92.20 L442.20,92.20 L443.00,92.20 L443.97,92.20 L443.97,84.19 L444.42,84.19 L444.42,92.20 L445.40,92.20 L445.40,92.20" fill="none" stroke="#1a9e96" stroke-width="2.05" stroke-linejoin="miter" stroke-miterlimit="2"/>
<line x1="388.00" y1="132.70" x2="402.50" y2="132.70" stroke="#1a9e96" stroke-width="1.9" />
<text x="406.40" y="135.80" font-size="8.5" text-anchor="start" fill="#2a2a2a" stroke="#2a2a2a" stroke-width="0.1" font-style="italic" >APOE</text>
<line x1="388.00" y1="148.10" x2="402.50" y2="148.10" stroke="#9b9b9b" stroke-width="1.9" />
<text x="406.40" y="151.20" font-size="8.5" text-anchor="start" fill="#2a2a2a" stroke="#2a2a2a" stroke-width="0.1" font-style="italic" >LuxA</text>
<text x="499.40" y="8.70" font-size="12.5" text-anchor="start" fill="#111" font-weight="bold" >b</text>
<text x="512.50" y="14.30" font-size="8.5" text-anchor="start" fill="#2a2a2a" stroke="#2a2a2a" stroke-width="0.1" ><tspan font-style="italic">APOE</tspan> coding sequencing</text>
<text x="525.50" y="24.60" font-size="8.5" text-anchor="start" fill="#2a2a2a" stroke="#2a2a2a" stroke-width="0.1" >by 12× Sidewinder</text>
<text x="534.00" y="38.50" font-size="8.5" text-anchor="start" fill="#2a2a2a" stroke="#2a2a2a" stroke-width="0.1" >1 kb+</text>
<text x="533.00" y="48.30" font-size="8.5" text-anchor="start" fill="#2a2a2a" stroke="#2a2a2a" stroke-width="0.1" >Ladder</text>
<text x="563.00" y="48.30" font-size="8.5" text-anchor="start" fill="#2a2a2a" stroke="#2a2a2a" stroke-width="0.1" font-style="italic" >APOE</text>
<text x="511.70" y="52.20" font-size="8.5" text-anchor="start" fill="#2a2a2a" stroke="#2a2a2a" stroke-width="0.1" >kb</text>
<rect x="532.10" y="52.30" width="53.50" height="119.30" fill="#25272a" />
<rect x="534.00" y="52.30" width="21.80" height="119.30" fill="#2b2c2e" />
<g filter="url(#blur)">
<rect x="534.80" y="55.10" width="20.40" height="3.40" fill="#e4e4e4" />
<rect x="534.80" y="58.70" width="20.40" height="1.60" fill="#a8a8a8" />
<rect x="534.80" y="60.90" width="20.40" height="3.20" fill="#f0f0f0" />
<rect x="534.80" y="65.90" width="20.40" height="2.00" fill="#8e8e8e" />
<rect x="534.80" y="71.10" width="20.40" height="2.00" fill="#969696" />
<rect x="534.80" y="76.70" width="20.40" height="2.00" fill="#909090" />
<rect x="534.80" y="82.90" width="20.40" height="2.80" fill="#eeeeee" />
<rect x="534.80" y="86.80" width="20.40" height="1.60" fill="#7c7c7c" />
<rect x="534.80" y="90.70" width="20.40" height="2.00" fill="#858585" />
<rect x="534.80" y="96.30" width="20.40" height="2.00" fill="#858585" />
<rect x="534.80" y="102.90" width="20.40" height="2.00" fill="#808080" />
<rect x="534.80" y="111.80" width="20.40" height="3.00" fill="#e2e2e2" />
<rect x="534.80" y="123.40" width="20.40" height="2.40" fill="#aaaaaa" />
<rect x="534.80" y="138.40" width="20.40" height="2.40" fill="#747474" />
<rect x="534.80" y="157.70" width="20.40" height="2.60" fill="#5a5a5a" />
<rect x="562.80" y="82.80" width="18.80" height="2.60" fill="#f4f4f4" />
</g>
<text x="520.80" y="66.00" font-size="8.5" text-anchor="end" fill="#2a2a2a" stroke="#2a2a2a" stroke-width="0.1" >3.0</text>
<path d="M527.40,61.40 L530.70,63.20 L527.40,65.00 Z" fill="#8c8c8c" stroke="none" stroke-width="0.6"/>
<text x="520.80" y="88.80" font-size="8.5" text-anchor="end" fill="#2a2a2a" stroke="#2a2a2a" stroke-width="0.1" >1.0</text>
<path d="M524.60,82.20 L530.40,85.40 L524.60,88.60 Z" fill="#c4c4c4" stroke="#8e8e8e" stroke-width="0.6"/>
<text x="520.80" y="116.30" font-size="8.5" text-anchor="end" fill="#2a2a2a" stroke="#2a2a2a" stroke-width="0.1" >0.5</text>
<path d="M527.40,111.60 L530.70,113.40 L527.40,115.20 Z" fill="#8c8c8c" stroke="none" stroke-width="0.6"/>
<path d="M596.40,82.00 L590.60,85.20 L596.40,88.40 Z" fill="#bdbdbd" stroke="#888" stroke-width="0.7"/>
<text x="603.90" y="88.80" font-size="8.5" text-anchor="start" fill="#2a2a2a" stroke="#2a2a2a" stroke-width="0.1" >Correct</text>
<text x="603.90" y="98.50" font-size="8.5" text-anchor="start" fill="#2a2a2a" stroke="#2a2a2a" stroke-width="0.1" >PCR</text>
<text x="0.30" y="230.20" font-size="12.5" text-anchor="start" fill="#111" font-weight="bold" >c</text>
<circle cx="117.3" cy="289.9" r="60.1" fill="#a7d3d5"/>
<line x1="117.00" y1="338.50" x2="117.00" y2="349.80" stroke="#b9dcde" stroke-width="0.7" />
<line x1="119.00" y1="339.50" x2="119.00" y2="349.80" stroke="#b9dcde" stroke-width="0.5" />
<line x1="125.00" y1="331.30" x2="172.00" y2="331.30" stroke="#afd6d8" stroke-width="0.5" />
<line x1="174.50" y1="331.30" x2="173.50" y2="331.30" stroke="#aaa" stroke-width="0.6" />
<text x="111.60" y="261.30" font-size="8.5" text-anchor="middle" fill="#2e3b3c" stroke="#2e3b3c" stroke-width="0.1" >Sidewinder</text>
<text x="111.60" y="272.00" font-size="8.5" text-anchor="middle" fill="#2e3b3c" stroke="#2e3b3c" stroke-width="0.1" >products</text>
<text x="112.80" y="283.20" font-size="8.5" text-anchor="middle" fill="#2e3b3c" stroke="#2e3b3c" stroke-width="0.1" >99.89%</text>
<line x1="140.00" y1="280.20" x2="169.60" y2="280.20" stroke="#259a92" stroke-width="1.2" />
<path d="M172.2,273.4 L169.8,273.4 L169.8,287 L172.2,287" fill="none" stroke="#259a92" stroke-width="0.9"/>
<text x="180.00" y="277.60" font-size="8.5" text-anchor="start" fill="#2a2a2a" stroke="#2a2a2a" stroke-width="0.1" >Correct assembly: 100%</text>
<text x="180.00" y="290.80" font-size="8.5" text-anchor="start" fill="#2a2a2a" stroke="#2a2a2a" stroke-width="0.1" >Incorrect assembly: 0%</text>
<line x1="160.00" y1="331.30" x2="173.00" y2="331.30" stroke="#bbb" stroke-width="0.6" />
<text x="174.90" y="336.30" font-size="8.5" text-anchor="start" fill="#2a2a2a" stroke="#2a2a2a" stroke-width="0.1" >PCR artifacts: 0.11%</text>
<text x="358.50" y="230.00" font-size="12.5" text-anchor="start" fill="#111" font-weight="bold" >d</text>
<line x1="410.20" y1="236.80" x2="410.20" y2="350.10" stroke="#8c8c8c" stroke-width="1" />
<line x1="407.60" y1="350.10" x2="617.30" y2="350.10" stroke="#8c8c8c" stroke-width="1" />
<line x1="407.60" y1="350.10" x2="410.20" y2="350.10" stroke="#8c8c8c" stroke-width="1" />
<text x="404.40" y="353.30" font-size="8.5" text-anchor="end" fill="#2a2a2a" stroke="#2a2a2a" stroke-width="0.1" >0</text>
<line x1="407.60" y1="327.44" x2="410.20" y2="327.44" stroke="#8c8c8c" stroke-width="1" />
<text x="404.40" y="330.64" font-size="8.5" text-anchor="end" fill="#2a2a2a" stroke="#2a2a2a" stroke-width="0.1" >10,000</text>
<line x1="407.60" y1="304.78" x2="410.20" y2="304.78" stroke="#8c8c8c" stroke-width="1" />
<text x="404.40" y="307.98" font-size="8.5" text-anchor="end" fill="#2a2a2a" stroke="#2a2a2a" stroke-width="0.1" >20,000</text>
<line x1="407.60" y1="282.12" x2="410.20" y2="282.12" stroke="#8c8c8c" stroke-width="1" />
<text x="404.40" y="285.32" font-size="8.5" text-anchor="end" fill="#2a2a2a" stroke="#2a2a2a" stroke-width="0.1" >30,000</text>
<line x1="407.60" y1="259.46" x2="410.20" y2="259.46" stroke="#8c8c8c" stroke-width="1" />
<text x="404.40" y="262.66" font-size="8.5" text-anchor="end" fill="#2a2a2a" stroke="#2a2a2a" stroke-width="0.1" >40,000</text>
<line x1="407.60" y1="236.80" x2="410.20" y2="236.80" stroke="#8c8c8c" stroke-width="1" />
<text x="404.40" y="240.00" font-size="8.5" text-anchor="end" fill="#2a2a2a" stroke="#2a2a2a" stroke-width="0.1" >50,000</text>
<rect x="418.30" y="235.80" width="55.00" height="114.30" fill="#a7d3d5" />
<rect x="487.60" y="235.80" width="55.00" height="114.30" fill="#a7d3d5" />
<line x1="445.70" y1="350.10" x2="445.70" y2="352.40" stroke="#8c8c8c" stroke-width="1" />
<text x="445.70" y="364.90" font-size="8.5" text-anchor="middle" fill="#2a2a2a" stroke="#2a2a2a" stroke-width="0.1" >Total</text>
<line x1="515.00" y1="350.10" x2="515.00" y2="352.40" stroke="#8c8c8c" stroke-width="1" />
<text x="515.00" y="364.90" font-size="8.5" text-anchor="middle" fill="#2a2a2a" stroke="#2a2a2a" stroke-width="0.1" >Correct</text>
<line x1="583.60" y1="350.10" x2="583.60" y2="352.40" stroke="#8c8c8c" stroke-width="1" />
<text x="583.60" y="364.90" font-size="8.5" text-anchor="middle" fill="#2a2a2a" stroke="#2a2a2a" stroke-width="0.1" >Incorrect</text>
<text x="445.70" y="233.20" font-size="8.5" text-anchor="middle" fill="#2a2a2a" stroke="#2a2a2a" stroke-width="0.1" >50,636</text>
<text x="515.00" y="233.20" font-size="8.5" text-anchor="middle" fill="#2a2a2a" stroke="#2a2a2a" stroke-width="0.1" >50,636</text>
<text x="583.60" y="346.90" font-size="8.5" text-anchor="middle" fill="#2a2a2a" stroke="#2a2a2a" stroke-width="0.1" >0</text>
<text x="513.90" y="379.40" font-size="8.5" text-anchor="middle" fill="#2a2a2a" stroke="#2a2a2a" stroke-width="0.1" >All observed ligated junctions</text>
<text x="0.00" y="0.00" font-size="8.5" text-anchor="middle" fill="#2a2a2a" stroke="#2a2a2a" stroke-width="0.1" transform="translate(366.6,293.5) rotate(-90)">Number of junctions</text>
<text x="0.30" y="403.30" font-size="12.5" text-anchor="start" fill="#111" font-weight="bold" >e</text>
<text x="0.00" y="426.00" font-size="7" text-anchor="start" fill="#777" stroke="#777" stroke-width="0.1" >i</text>
<line x1="35.80" y1="419.70" x2="50.00" y2="406.30" stroke="#959595" stroke-width="0.95" />
<text x="52.00" y="407.20" font-size="8.5" text-anchor="start" fill="#2a2a2a" stroke="#2a2a2a" stroke-width="0.1" >LuxA segment</text>
<text x="52.00" y="417.70" font-size="8.5" text-anchor="start" fill="#2a2a2a" stroke="#2a2a2a" stroke-width="0.1" >self-alignment</text>
<rect x="36.0" y="426.6" width="167.6" height="167.5" fill="none" stroke="#8c8c8c" stroke-width="1"/>
<line x1="43.80" y1="594.10" x2="43.80" y2="591.70" stroke="#8c8c8c" stroke-width="1" />
<text x="43.80" y="605.00" font-size="8.5" text-anchor="middle" fill="#2a2a2a" stroke="#2a2a2a" stroke-width="0.1" >0</text>
<line x1="36.00" y1="586.20" x2="38.40" y2="586.20" stroke="#8c8c8c" stroke-width="1" />
<text x="32.20" y="590.00" font-size="8.5" text-anchor="end" fill="#2a2a2a" stroke="#2a2a2a" stroke-width="0.1" >0</text>
<line x1="75.85" y1="594.10" x2="75.85" y2="591.70" stroke="#8c8c8c" stroke-width="1" />
<text x="75.85" y="605.00" font-size="8.5" text-anchor="middle" fill="#2a2a2a" stroke="#2a2a2a" stroke-width="0.1" >100</text>
<line x1="36.00" y1="554.15" x2="38.40" y2="554.15" stroke="#8c8c8c" stroke-width="1" />
<text x="32.20" y="557.95" font-size="8.5" text-anchor="end" fill="#2a2a2a" stroke="#2a2a2a" stroke-width="0.1" >100</text>
<line x1="107.90" y1="594.10" x2="107.90" y2="591.70" stroke="#8c8c8c" stroke-width="1" />
<text x="107.90" y="605.00" font-size="8.5" text-anchor="middle" fill="#2a2a2a" stroke="#2a2a2a" stroke-width="0.1" >200</text>
<line x1="36.00" y1="522.10" x2="38.40" y2="522.10" stroke="#8c8c8c" stroke-width="1" />
<text x="32.20" y="525.90" font-size="8.5" text-anchor="end" fill="#2a2a2a" stroke="#2a2a2a" stroke-width="0.1" >200</text>
<line x1="139.95" y1="594.10" x2="139.95" y2="591.70" stroke="#8c8c8c" stroke-width="1" />
<text x="139.95" y="605.00" font-size="8.5" text-anchor="middle" fill="#2a2a2a" stroke="#2a2a2a" stroke-width="0.1" >300</text>
<line x1="36.00" y1="490.05" x2="38.40" y2="490.05" stroke="#8c8c8c" stroke-width="1" />
<text x="32.20" y="493.85" font-size="8.5" text-anchor="end" fill="#2a2a2a" stroke="#2a2a2a" stroke-width="0.1" >300</text>
<line x1="172.00" y1="594.10" x2="172.00" y2="591.70" stroke="#8c8c8c" stroke-width="1" />
<text x="172.00" y="605.00" font-size="8.5" text-anchor="middle" fill="#2a2a2a" stroke="#2a2a2a" stroke-width="0.1" >400</text>
<line x1="36.00" y1="458.00" x2="38.40" y2="458.00" stroke="#8c8c8c" stroke-width="1" />
<text x="32.20" y="461.80" font-size="8.5" text-anchor="end" fill="#2a2a2a" stroke="#2a2a2a" stroke-width="0.1" >400</text>
<text x="119.80" y="618.40" font-size="8.5" text-anchor="middle" fill="#2a2a2a" stroke="#2a2a2a" stroke-width="0.1" >Position in coding sequence</text>
<text x="0.00" y="0.00" font-size="8.5" text-anchor="middle" fill="#2a2a2a" stroke="#2a2a2a" stroke-width="0.1" transform="translate(7.8,510.5) rotate(-90)">Position in coding sequence</text>
<line x1="43.80" y1="586.20" x2="194.44" y2="435.57" stroke="#8e8e8e" stroke-width="1.55" />
<line x1="52.10" y1="551.50" x2="55.50" y2="548.80" stroke="#aaa" stroke-width="1.0" />
<line x1="107.90" y1="498.20" x2="111.50" y2="495.20" stroke="#aaa" stroke-width="1.0" />
<line x1="78.20" y1="578.20" x2="81.80" y2="575.20" stroke="#aaa" stroke-width="1.0" />
<line x1="131.40" y1="522.30" x2="135.50" y2="519.50" stroke="#aaa" stroke-width="1.0" />
<text x="216.50" y="426.00" font-size="7" text-anchor="start" fill="#777" stroke="#777" stroke-width="0.1" >ii</text>
<line x1="251.30" y1="419.50" x2="265.10" y2="405.50" stroke="#4d5282" stroke-width="1.05" />
<text x="268.70" y="409.00" font-size="8.5" text-anchor="start" fill="#2a2a2a" stroke="#2a2a2a" stroke-width="0.1" >H-fibroin segment</text>
<text x="268.70" y="419.60" font-size="8.5" text-anchor="start" fill="#2a2a2a" stroke="#2a2a2a" stroke-width="0.1" >self-alignment</text>
<rect x="365.90" y="403.90" width="3.20" height="5.50" fill="#b4b5c6" />
<text x="376.50" y="409.70" font-size="8.5" text-anchor="start" fill="#2a2a2a" stroke="#2a2a2a" stroke-width="0.1" >Identical <tspan font-style="italic">t</tspan>/<tspan font-style="italic">t</tspan>*</text>
<rect x="362.30" y="417.90" width="9.90" height="4.70" fill="#dddde8" />
<text x="376.50" y="422.80" font-size="8.5" text-anchor="start" fill="#2a2a2a" stroke="#2a2a2a" stroke-width="0.1" >Repetitive regions</text>
<rect x="271.90" y="427.10" width="45.70" height="159.10" fill="#e2e2f1" />
<rect x="325.20" y="427.10" width="19.80" height="159.10" fill="#e2e2f1" />
<rect x="360.20" y="427.10" width="40.60" height="159.10" fill="#e2e2f1" />
<rect x="289.20" y="427.10" width="3.30" height="159.10" fill="#c3c5df" />
<rect x="312.00" y="427.10" width="3.60" height="159.10" fill="#c3c5df" />
<rect x="336.00" y="427.10" width="3.10" height="159.10" fill="#c3c5df" />
<rect x="377.30" y="427.10" width="3.20" height="159.10" fill="#c3c5df" />
<rect x="251.5" y="426.6" width="168.10000000000002" height="167.5" fill="none" stroke="#8c8c8c" stroke-width="1"/>
<line x1="259.60" y1="594.10" x2="259.60" y2="591.70" stroke="#8c8c8c" stroke-width="1" />
<text x="259.60" y="605.00" font-size="8.5" text-anchor="middle" fill="#2a2a2a" stroke="#2a2a2a" stroke-width="0.1" >0</text>
<line x1="251.50" y1="586.20" x2="253.90" y2="586.20" stroke="#8c8c8c" stroke-width="1" />
<text x="248.00" y="590.00" font-size="8.5" text-anchor="end" fill="#2a2a2a" stroke="#2a2a2a" stroke-width="0.1" >0</text>
<line x1="291.65" y1="594.10" x2="291.65" y2="591.70" stroke="#8c8c8c" stroke-width="1" />
<text x="291.65" y="605.00" font-size="8.5" text-anchor="middle" fill="#2a2a2a" stroke="#2a2a2a" stroke-width="0.1" >100</text>
<line x1="251.50" y1="554.15" x2="253.90" y2="554.15" stroke="#8c8c8c" stroke-width="1" />
<text x="248.00" y="557.95" font-size="8.5" text-anchor="end" fill="#2a2a2a" stroke="#2a2a2a" stroke-width="0.1" >100</text>
<line x1="323.70" y1="594.10" x2="323.70" y2="591.70" stroke="#8c8c8c" stroke-width="1" />
<text x="323.70" y="605.00" font-size="8.5" text-anchor="middle" fill="#2a2a2a" stroke="#2a2a2a" stroke-width="0.1" >200</text>
<line x1="251.50" y1="522.10" x2="253.90" y2="522.10" stroke="#8c8c8c" stroke-width="1" />
<text x="248.00" y="525.90" font-size="8.5" text-anchor="end" fill="#2a2a2a" stroke="#2a2a2a" stroke-width="0.1" >200</text>
<line x1="355.75" y1="594.10" x2="355.75" y2="591.70" stroke="#8c8c8c" stroke-width="1" />
<text x="355.75" y="605.00" font-size="8.5" text-anchor="middle" fill="#2a2a2a" stroke="#2a2a2a" stroke-width="0.1" >300</text>
<line x1="251.50" y1="490.05" x2="253.90" y2="490.05" stroke="#8c8c8c" stroke-width="1" />
<text x="248.00" y="493.85" font-size="8.5" text-anchor="end" fill="#2a2a2a" stroke="#2a2a2a" stroke-width="0.1" >300</text>
<line x1="387.80" y1="594.10" x2="387.80" y2="591.70" stroke="#8c8c8c" stroke-width="1" />
<text x="387.80" y="605.00" font-size="8.5" text-anchor="middle" fill="#2a2a2a" stroke="#2a2a2a" stroke-width="0.1" >400</text>
<line x1="251.50" y1="458.00" x2="253.90" y2="458.00" stroke="#8c8c8c" stroke-width="1" />
<text x="248.00" y="461.80" font-size="8.5" text-anchor="end" fill="#2a2a2a" stroke="#2a2a2a" stroke-width="0.1" >400</text>
<text x="335.20" y="618.40" font-size="8.5" text-anchor="middle" fill="#2a2a2a" stroke="#2a2a2a" stroke-width="0.1" >Position in coding sequence</text>
<text x="0.00" y="0.00" font-size="8.5" text-anchor="middle" fill="#2a2a2a" stroke="#2a2a2a" stroke-width="0.1" transform="translate(224.3,510.5) rotate(-90)">Position in coding sequence</text>
<line x1="259.60" y1="586.20" x2="410.30" y2="435.60" stroke="#454e8e" stroke-width="1.7" />
<line x1="272.20" y1="485.10" x2="312.60" y2="444.70" stroke="#454e8e" stroke-width="1.7" />
<line x1="360.30" y1="574.10" x2="400.70" y2="533.50" stroke="#454e8e" stroke-width="1.7" />
<line x1="285.50" y1="464.10" x2="291.40" y2="460.50" stroke="#626aa3" stroke-width="1.75" stroke-linecap="round"/>
<line x1="293.20" y1="471.40" x2="297.30" y2="466.40" stroke="#8d93c2" stroke-width="2.0" stroke-linecap="round"/>
<line x1="286.80" y1="505.00" x2="291.80" y2="501.40" stroke="#4a5391" stroke-width="1.75" stroke-linecap="round"/>
<line x1="288.20" y1="510.50" x2="298.20" y2="500.90" stroke="#4a5391" stroke-width="1.75" stroke-linecap="round"/>
<line x1="294.50" y1="509.10" x2="297.30" y2="506.80" stroke="#8d93c2" stroke-width="1.75" stroke-linecap="round"/>
<line x1="295.00" y1="513.60" x2="298.60" y2="510.00" stroke="#626aa3" stroke-width="1.75" stroke-linecap="round"/>
<line x1="280.50" y1="520.00" x2="284.50" y2="515.50" stroke="#626aa3" stroke-width="1.9" stroke-linecap="round"/>
<line x1="288.60" y1="534.50" x2="294.50" y2="528.60" stroke="#4a5391" stroke-width="1.75" stroke-linecap="round"/>
<line x1="294.50" y1="534.10" x2="297.70" y2="530.90" stroke="#8d93c2" stroke-width="1.75" stroke-linecap="round"/>
<line x1="285.50" y1="552.30" x2="291.80" y2="548.20" stroke="#626aa3" stroke-width="1.75" stroke-linecap="round"/>
<line x1="293.20" y1="560.00" x2="297.30" y2="554.10" stroke="#8d93c2" stroke-width="2.0" stroke-linecap="round"/>
<line x1="373.70" y1="464.10" x2="379.60" y2="460.50" stroke="#626aa3" stroke-width="1.75" stroke-linecap="round"/>
<line x1="381.40" y1="471.40" x2="385.50" y2="466.40" stroke="#8d93c2" stroke-width="2.0" stroke-linecap="round"/>
<line x1="375.00" y1="505.00" x2="380.00" y2="501.40" stroke="#4a5391" stroke-width="1.75" stroke-linecap="round"/>
<line x1="376.40" y1="510.50" x2="386.40" y2="500.90" stroke="#4a5391" stroke-width="1.75" stroke-linecap="round"/>
<line x1="382.70" y1="509.10" x2="385.50" y2="506.80" stroke="#8d93c2" stroke-width="1.75" stroke-linecap="round"/>
<line x1="383.20" y1="513.60" x2="386.80" y2="510.00" stroke="#626aa3" stroke-width="1.75" stroke-linecap="round"/>
<line x1="368.70" y1="520.00" x2="372.70" y2="515.50" stroke="#626aa3" stroke-width="1.9" stroke-linecap="round"/>
<line x1="376.80" y1="534.50" x2="382.70" y2="528.60" stroke="#4a5391" stroke-width="1.75" stroke-linecap="round"/>
<line x1="382.70" y1="534.10" x2="385.90" y2="530.90" stroke="#8d93c2" stroke-width="1.75" stroke-linecap="round"/>
<line x1="373.70" y1="552.30" x2="380.00" y2="548.20" stroke="#626aa3" stroke-width="1.75" stroke-linecap="round"/>
<line x1="381.40" y1="560.00" x2="385.50" y2="554.10" stroke="#8d93c2" stroke-width="2.0" stroke-linecap="round"/>
<line x1="311.40" y1="469.10" x2="317.70" y2="463.20" stroke="#4a5391" stroke-width="1.75" stroke-linecap="round"/>
<line x1="312.30" y1="461.80" x2="314.50" y2="459.50" stroke="#8d93c2" stroke-width="1.75" stroke-linecap="round"/>
<line x1="311.40" y1="505.00" x2="314.50" y2="501.80" stroke="#626aa3" stroke-width="1.75" stroke-linecap="round"/>
<line x1="311.40" y1="510.00" x2="317.30" y2="504.50" stroke="#4a5391" stroke-width="1.75" stroke-linecap="round"/>
<line x1="311.40" y1="557.30" x2="317.70" y2="551.40" stroke="#4a5391" stroke-width="1.75" stroke-linecap="round"/>
<line x1="312.30" y1="550.50" x2="314.50" y2="548.20" stroke="#8d93c2" stroke-width="1.75" stroke-linecap="round"/>
<line x1="332.10" y1="462.30" x2="335.70" y2="459.50" stroke="#626aa3" stroke-width="1.75" stroke-linecap="round"/>
<line x1="335.70" y1="469.10" x2="344.80" y2="459.50" stroke="#4a5391" stroke-width="1.75" stroke-linecap="round"/>
<line x1="340.30" y1="470.90" x2="344.80" y2="465.90" stroke="#4a5391" stroke-width="1.75" stroke-linecap="round"/>
<line x1="325.30" y1="476.80" x2="330.70" y2="473.60" stroke="#626aa3" stroke-width="1.75" stroke-linecap="round"/>
<line x1="332.10" y1="503.60" x2="336.20" y2="500.90" stroke="#8d93c2" stroke-width="1.75" stroke-linecap="round"/>
<line x1="335.70" y1="504.50" x2="338.90" y2="501.80" stroke="#626aa3" stroke-width="1.75" stroke-linecap="round"/>
<line x1="341.20" y1="510.00" x2="344.80" y2="506.80" stroke="#626aa3" stroke-width="1.75" stroke-linecap="round"/>
<line x1="341.20" y1="513.60" x2="344.80" y2="510.50" stroke="#626aa3" stroke-width="1.75" stroke-linecap="round"/>
<circle cx="328" cy="517.3" r="1.6" fill="#7a82bb"/>
<line x1="335.30" y1="534.50" x2="341.60" y2="528.60" stroke="#4a5391" stroke-width="1.75" stroke-linecap="round"/>
<line x1="341.20" y1="534.50" x2="344.80" y2="530.90" stroke="#626aa3" stroke-width="1.75" stroke-linecap="round"/>
<line x1="332.10" y1="550.90" x2="335.70" y2="548.20" stroke="#626aa3" stroke-width="1.75" stroke-linecap="round"/>
<line x1="335.70" y1="556.80" x2="344.80" y2="547.70" stroke="#4a5391" stroke-width="1.75" stroke-linecap="round"/>
<line x1="340.30" y1="559.10" x2="344.80" y2="553.60" stroke="#4a5391" stroke-width="1.75" stroke-linecap="round"/>
<line x1="325.30" y1="565.50" x2="330.70" y2="561.80" stroke="#626aa3" stroke-width="1.75" stroke-linecap="round"/>
<text x="225.30" y="645.30" font-size="7" text-anchor="start" fill="#777" stroke="#777" stroke-width="0.1" >iii</text>
<path d="M259.6,651.2 L406.5,651.2 L410,653.8 L406.5,656.5 L262.5,656.5 L264,658.0 L261.2,658.0 L259.6,656.5 Z" fill="#9f9f9f"/>
<rect x="260.20" y="653.20" width="147.50" height="1.20" fill="#c6c6c6" />
<rect x="272.00" y="651.20" width="45.50" height="5.30" fill="#adafd8" />
<rect x="272.00" y="653.20" width="45.50" height="1.20" fill="#cfd0ea" />
<rect x="325.00" y="651.20" width="20.20" height="5.30" fill="#adafd8" />
<rect x="325.00" y="653.20" width="20.20" height="1.20" fill="#cfd0ea" />
<rect x="359.80" y="651.20" width="40.80" height="5.30" fill="#adafd8" />
<rect x="359.80" y="653.20" width="40.80" height="1.20" fill="#cfd0ea" />
<rect x="289.40" y="651.20" width="2.40" height="5.30" fill="#5a619d" />
<rect x="312.80" y="651.20" width="2.40" height="5.30" fill="#5a619d" />
<rect x="336.50" y="651.20" width="2.50" height="5.30" fill="#5a619d" />
<rect x="377.60" y="651.20" width="2.50" height="5.30" fill="#5a619d" />
<path d="M290.5,650 L290.5,640.5 L413.4,640.5 M313.6,640.5 L313.6,650 M337.8,640.5 L337.8,650 M378.9,640.5 L378.9,650" fill="none" stroke="#999" stroke-width="0.8"/>
<text x="277.50" y="649.00" font-size="8.2" text-anchor="middle" fill="#2a2a2a" stroke="#2a2a2a" stroke-width="0.1" >F1</text>
<text x="302.80" y="649.00" font-size="8.2" text-anchor="middle" fill="#2a2a2a" stroke="#2a2a2a" stroke-width="0.1" >F2</text>
<text x="326.50" y="649.00" font-size="8.2" text-anchor="middle" fill="#2a2a2a" stroke="#2a2a2a" stroke-width="0.1" >F3</text>
<text x="359.20" y="649.00" font-size="8.2" text-anchor="middle" fill="#2a2a2a" stroke="#2a2a2a" stroke-width="0.1" >F4</text>
<text x="394.30" y="649.00" font-size="8.2" text-anchor="middle" fill="#2a2a2a" stroke="#2a2a2a" stroke-width="0.1" >F5</text>
<text x="417.00" y="643.90" font-size="8.5" text-anchor="start" fill="#2a2a2a" stroke="#2a2a2a" stroke-width="0.1" >Identical <tspan font-style="italic">t</tspan>/<tspan font-style="italic">t</tspan>*</text>
<path d="M272.2,659.0 L272.2,660.8 L318.0,660.8 L318.0,659.0 M294.5,660.8 L294.5,662.8" fill="none" stroke="#999" stroke-width="0.8"/>
<text x="294.50" y="671.80" font-size="8.5" text-anchor="middle" fill="#2a2a2a" stroke="#2a2a2a" stroke-width="0.1" >Repetitive</text>
<text x="294.50" y="680.20" font-size="8.5" text-anchor="middle" fill="#2a2a2a" stroke="#2a2a2a" stroke-width="0.1" >region</text>
<path d="M324.8,659.0 L324.8,660.8 L345.5,660.8 L345.5,659.0 M335.5,660.8 L335.5,662.8" fill="none" stroke="#999" stroke-width="0.8"/>
<text x="335.50" y="671.80" font-size="8.5" text-anchor="middle" fill="#2a2a2a" stroke="#2a2a2a" stroke-width="0.1" >Repetitive</text>
<text x="335.50" y="680.20" font-size="8.5" text-anchor="middle" fill="#2a2a2a" stroke="#2a2a2a" stroke-width="0.1" >region</text>
<path d="M359.8,659.0 L359.8,660.8 L401.6,660.8 L401.6,659.0 M380.4,660.8 L380.4,662.8" fill="none" stroke="#999" stroke-width="0.8"/>
<text x="380.40" y="671.80" font-size="8.5" text-anchor="middle" fill="#2a2a2a" stroke="#2a2a2a" stroke-width="0.1" >Repetitive</text>
<text x="380.40" y="680.20" font-size="8.5" text-anchor="middle" fill="#2a2a2a" stroke="#2a2a2a" stroke-width="0.1" >region</text>
<text x="477.40" y="404.10" font-size="12.5" text-anchor="start" fill="#111" font-weight="bold" >f</text>
<text x="553.60" y="410.70" font-size="8.5" text-anchor="middle" fill="#2a2a2a" stroke="#2a2a2a" stroke-width="0.1" >H-fibroin, identical toehold</text>
<text x="553.60" y="421.10" font-size="8.5" text-anchor="middle" fill="#2a2a2a" stroke="#2a2a2a" stroke-width="0.1" >by 5× Sidewinder</text>
<text x="0.00" y="0.00" font-size="8.5" text-anchor="middle" fill="#2a2a2a" stroke="#2a2a2a" stroke-width="0.1" transform="translate(540.6,445.0) rotate(-45)">All</text>
<text x="0.00" y="0.00" font-size="8.5" text-anchor="middle" fill="#2a2a2a" stroke="#2a2a2a" stroke-width="0.1" transform="translate(564.4,445.0) rotate(-45)">All</text>
<text x="0.00" y="0.00" font-size="8.5" text-anchor="middle" fill="#2a2a2a" stroke="#2a2a2a" stroke-width="0.1" transform="translate(595.6,439.2) rotate(-45)">F1 + F5</text>
<text x="617.70" y="440.70" font-size="8.5" text-anchor="start" fill="#2a2a2a" stroke="#2a2a2a" stroke-width="0.1" >Sidewinder</text>
<text x="617.70" y="450.30" font-size="8.5" text-anchor="start" fill="#2a2a2a" stroke="#2a2a2a" stroke-width="0.1" >fragments</text>
<text x="515.30" y="461.70" font-size="8.5" text-anchor="middle" fill="#2a2a2a" stroke="#2a2a2a" stroke-width="0.1" >Low MM</text>
<text x="515.00" y="472.60" font-size="8.5" text-anchor="middle" fill="#2a2a2a" stroke="#2a2a2a" stroke-width="0.1" >Ladder</text>
<text x="539.50" y="468.00" font-size="8.5" text-anchor="middle" fill="#2a2a2a" stroke="#2a2a2a" stroke-width="0.1" >+</text>
<text x="565.00" y="467.00" font-size="8.5" text-anchor="middle" fill="#2a2a2a" stroke="#2a2a2a" stroke-width="0.1" >–</text>
<text x="591.80" y="467.00" font-size="8.5" text-anchor="middle" fill="#2a2a2a" stroke="#2a2a2a" stroke-width="0.1" >–</text>
<text x="617.70" y="468.80" font-size="8.5" text-anchor="start" fill="#2a2a2a" stroke="#2a2a2a" stroke-width="0.1" >Ligase</text>
<text x="481.60" y="474.30" font-size="8.5" text-anchor="start" fill="#2a2a2a" stroke="#2a2a2a" stroke-width="0.1" >kb</text>
<rect x="500.20" y="475.80" width="106.40" height="119.40" fill="#4a4c4e" />
<rect x="502.80" y="476.50" width="20.60" height="118.00" fill="#505254" />
<g filter="url(#blur2)">
<rect x="503.20" y="480.60" width="19.00" height="3.20" fill="#d8d8d8" />
<rect x="503.20" y="498.80" width="19.00" height="3.20" fill="#d6d6d6" />
<rect x="503.20" y="515.50" width="19.00" height="2.20" fill="#b4b4b4" />
<rect x="503.20" y="522.80" width="19.00" height="2.20" fill="#b0b0b0" />
<rect x="503.20" y="530.30" width="19.00" height="2.20" fill="#acacac" />
<rect x="503.20" y="538.90" width="19.00" height="3.20" fill="#fcfcfc" />
<rect x="503.20" y="549.40" width="19.00" height="3.00" fill="#a4a4a4" />
<rect x="503.20" y="563.20" width="19.00" height="3.00" fill="#9c9c9c" />
<rect x="503.20" y="572.40" width="19.00" height="3.00" fill="#9a9a9a" />
<rect x="503.20" y="581.30" width="19.00" height="3.40" fill="#8e8e8e" />
<rect x="529" y="489" width="20" height="11" fill="url(#smear)"/>
<rect x="529.00" y="498.40" width="20.00" height="4.80" fill="#fbfbfb" />
<rect x="529.00" y="537.80" width="20.00" height="3.00" fill="#a4a4a4" />
<rect x="556.00" y="537.40" width="20.00" height="3.20" fill="#d8d8d8" />
<rect x="582.60" y="536.20" width="20.00" height="3.20" fill="#d4d4d4" />
</g>
<text x="489.30" y="487.10" font-size="8.5" text-anchor="end" fill="#2a2a2a" stroke="#2a2a2a" stroke-width="0.1" >0.8</text>
<path d="M495.40,482.30 L498.70,484.10 L495.40,485.90 Z" fill="#8c8c8c" stroke="none" stroke-width="0.6"/>
<text x="489.30" y="503.70" font-size="8.5" text-anchor="end" fill="#2a2a2a" stroke="#2a2a2a" stroke-width="0.1" >0.5</text>
<path d="M492.40,497.50 L498.20,500.70 L492.40,503.90 Z" fill="#c4c4c4" stroke="#8e8e8e" stroke-width="0.6"/>
<text x="489.30" y="543.50" font-size="8.5" text-anchor="end" fill="#2a2a2a" stroke="#2a2a2a" stroke-width="0.1" >0.2</text>
<path d="M495.40,538.70 L498.70,540.50 L495.40,542.30 Z" fill="#8c8c8c" stroke="none" stroke-width="0.6"/>
<path d="M614.30,496.70 L608.50,499.90 L614.30,503.10 Z" fill="#bdbdbd" stroke="#888" stroke-width="0.7"/>
<path d="M614.30,535.20 L608.50,538.40 L614.30,541.60 Z" fill="#bdbdbd" stroke="#888" stroke-width="0.7"/>
<text x="617.90" y="497.60" font-size="8.5" text-anchor="start" fill="#2a2a2a" stroke="#2a2a2a" stroke-width="0.1" >Correct</text>
<text x="617.90" y="507.90" font-size="8.5" text-anchor="start" fill="#2a2a2a" stroke="#2a2a2a" stroke-width="0.1" >PCR</text>
<text x="617.90" y="539.40" font-size="8.5" text-anchor="start" fill="#2a2a2a" stroke="#2a2a2a" stroke-width="0.1" >F1 + F5</text>
<text x="617.90" y="549.70" font-size="8.5" text-anchor="start" fill="#2a2a2a" stroke="#2a2a2a" stroke-width="0.1" >mispriming</text>
<text x="0.30" y="700.80" font-size="12.5" text-anchor="start" fill="#111" font-weight="bold" >g</text>
<circle cx="117.3" cy="758.5" r="60.0" fill="#b4b6d7"/>
<text x="117.30" y="726.60" font-size="8.5" text-anchor="middle" fill="#30324a" stroke="#30324a" stroke-width="0.1" >Sidewinder</text>
<text x="117.30" y="736.70" font-size="8.5" text-anchor="middle" fill="#30324a" stroke="#30324a" stroke-width="0.1" >products</text>
<text x="117.30" y="755.00" font-size="8.5" text-anchor="middle" fill="#30324a" stroke="#30324a" stroke-width="0.1" >99.52%</text>
<line x1="140.40" y1="749.20" x2="169.50" y2="749.20" stroke="#4a5090" stroke-width="1.0" />
<path d="M171.6,742.5 L169.8,742.5 L169.8,756.1 L171.6,756.1" fill="none" stroke="#4a5090" stroke-width="0.9"/>
<text x="179.80" y="747.20" font-size="8.5" text-anchor="start" fill="#2a2a2a" stroke="#2a2a2a" stroke-width="0.1" >Correct assembly: 99.19%</text>
<text x="179.80" y="760.40" font-size="8.5" text-anchor="start" fill="#2a2a2a" stroke="#2a2a2a" stroke-width="0.1" >Incorrect assembly: 0.81%</text>
<line x1="117.80" y1="760.00" x2="117.80" y2="818.30" stroke="#7d81b0" stroke-width="0.8" />
<line x1="117.80" y1="815.10" x2="141.00" y2="815.10" stroke="#8083b0" stroke-width="0.75" />
<line x1="141.00" y1="815.10" x2="155.00" y2="815.10" stroke="#a3a3a8" stroke-width="0.7" />
<line x1="160.50" y1="800.60" x2="172.00" y2="800.60" stroke="#b0b0b0" stroke-width="0.6" />
<text x="174.80" y="804.60" font-size="8.5" text-anchor="start" fill="#2a2a2a" stroke="#2a2a2a" stroke-width="0.1" >PCR artifacts: 0.13%</text>
<text x="157.70" y="818.90" font-size="8.5" text-anchor="start" fill="#2a2a2a" stroke="#2a2a2a" stroke-width="0.1" >Sequencing artifacts: 0.35%</text>
<text x="359.80" y="700.60" font-size="12.5" text-anchor="start" fill="#111" font-weight="bold" >h</text>
<line x1="410.00" y1="705.30" x2="410.00" y2="818.40" stroke="#8c8c8c" stroke-width="1" />
<line x1="407.60" y1="818.40" x2="617.40" y2="818.40" stroke="#8c8c8c" stroke-width="1" />
<line x1="407.60" y1="818.40" x2="410.00" y2="818.40" stroke="#8c8c8c" stroke-width="1" />
<text x="403.80" y="821.90" font-size="8.5" text-anchor="end" fill="#2a2a2a" stroke="#2a2a2a" stroke-width="0.1" >0</text>
<line x1="407.60" y1="790.12" x2="410.00" y2="790.12" stroke="#8c8c8c" stroke-width="1" />
<text x="403.80" y="793.62" font-size="8.5" text-anchor="end" fill="#2a2a2a" stroke="#2a2a2a" stroke-width="0.1" >3,750</text>
<line x1="407.60" y1="761.85" x2="410.00" y2="761.85" stroke="#8c8c8c" stroke-width="1" />
<text x="403.80" y="765.35" font-size="8.5" text-anchor="end" fill="#2a2a2a" stroke="#2a2a2a" stroke-width="0.1" >7,500</text>
<line x1="407.60" y1="733.57" x2="410.00" y2="733.57" stroke="#8c8c8c" stroke-width="1" />
<text x="403.80" y="737.07" font-size="8.5" text-anchor="end" fill="#2a2a2a" stroke="#2a2a2a" stroke-width="0.1" >11,250</text>
<line x1="407.60" y1="705.30" x2="410.00" y2="705.30" stroke="#8c8c8c" stroke-width="1" />
<text x="403.80" y="708.80" font-size="8.5" text-anchor="end" fill="#2a2a2a" stroke="#2a2a2a" stroke-width="0.1" >15,000</text>
<rect x="418.50" y="717.20" width="54.80" height="101.20" fill="#b4b6d7" />
<rect x="487.50" y="717.40" width="54.80" height="101.00" fill="#b4b6d7" />
<line x1="445.90" y1="818.40" x2="445.90" y2="820.70" stroke="#8c8c8c" stroke-width="1" />
<text x="445.90" y="833.40" font-size="8.5" text-anchor="middle" fill="#2a2a2a" stroke="#2a2a2a" stroke-width="0.1" >Total</text>
<line x1="514.80" y1="818.40" x2="514.80" y2="820.70" stroke="#8c8c8c" stroke-width="1" />
<text x="514.80" y="833.40" font-size="8.5" text-anchor="middle" fill="#2a2a2a" stroke="#2a2a2a" stroke-width="0.1" >Correct</text>
<line x1="583.50" y1="818.40" x2="583.50" y2="820.70" stroke="#8c8c8c" stroke-width="1" />
<text x="583.50" y="833.40" font-size="8.5" text-anchor="middle" fill="#2a2a2a" stroke="#2a2a2a" stroke-width="0.1" >Incorrect</text>
<text x="445.90" y="713.60" font-size="8.5" text-anchor="middle" fill="#2a2a2a" stroke="#2a2a2a" stroke-width="0.1" >13,416</text>
<text x="514.80" y="713.60" font-size="8.5" text-anchor="middle" fill="#2a2a2a" stroke="#2a2a2a" stroke-width="0.1" >13,385</text>
<text x="583.50" y="815.90" font-size="8.5" text-anchor="middle" fill="#2a2a2a" stroke="#2a2a2a" stroke-width="0.1" >31</text>
<text x="513.90" y="847.60" font-size="8.5" text-anchor="middle" fill="#2a2a2a" stroke="#2a2a2a" stroke-width="0.1" >All observed ligated junctions</text>
<text x="0.00" y="0.00" font-size="8.5" text-anchor="middle" fill="#2a2a2a" stroke="#2a2a2a" stroke-width="0.1" transform="translate(368.2,762.0) rotate(-90)">Number of junctions</text>
</svg>
</body></html>
